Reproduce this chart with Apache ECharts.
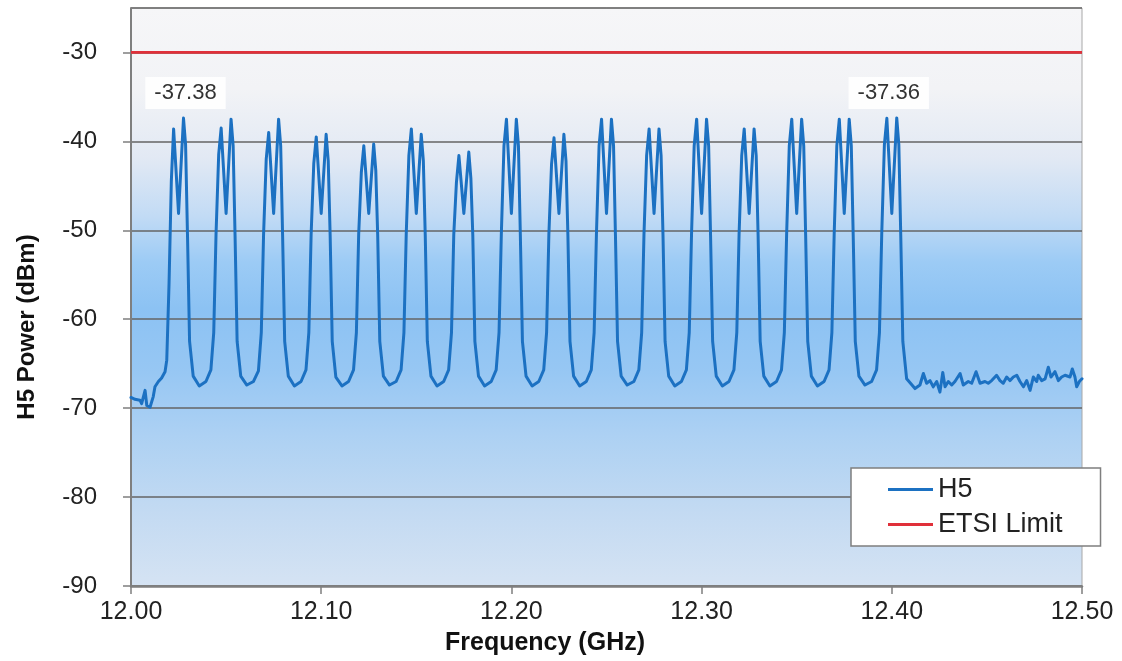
<!DOCTYPE html>
<html>
<head>
<meta charset="utf-8">
<script src="https://cdn.jsdelivr.net/npm/echarts@6/dist/echarts.min.js"></script>
<style>
html,body{margin:0;padding:0;background:#fff;}
#chart{width:1122px;height:661px;}
</style>
</head>
<body>
<div id="chart"></div>
<script>
// ---- data ----
const xTicks = [12.00, 12.10, 12.20, 12.30, 12.40, 12.50];
const yTicks = [-90, -80, -70, -60, -50, -40, -30];
const etsiLimit = -30;

const leadFreq  = [12.0000, 12.0021, 12.0047, 12.0056, 12.0074, 12.0083, 12.0100, 12.0117, 12.0126, 12.0144, 12.0161, 12.0179, 12.0188];
const leadPower = [-68.8, -69.0, -69.1, -69.5, -68.0, -69.7, -69.9, -68.7, -67.6, -67.0, -66.6, -65.9, -64.6];

const bandFreq = [
  12.0200,12.0212,12.0224,12.0250,12.0276,12.0287,12.0297,12.0308,12.0327,12.0359,12.0394,
  12.0420,12.0435,12.0447,12.0461,12.0474,12.0500,12.0526,12.0537,12.0547,12.0558,12.0577,12.0609,12.0644,
  12.0670,12.0685,12.0697,12.0711,12.0724,12.0750,12.0776,12.0787,12.0797,12.0808,12.0827,12.0859,12.0894,
  12.0920,12.0935,12.0947,12.0961,12.0974,12.1000,12.1026,12.1037,12.1047,12.1058,12.1077,12.1109,12.1144,
  12.1170,12.1185,12.1197,12.1211,12.1224,12.1250,12.1276,12.1287,12.1297,12.1308,12.1327,12.1359,12.1394,
  12.1420,12.1435,12.1447,12.1461,12.1474,12.1500,12.1526,12.1537,12.1547,12.1558,12.1577,12.1609,12.1644,
  12.1670,12.1685,12.1697,12.1711,12.1724,12.1750,12.1776,12.1787,12.1797,12.1808,12.1827,12.1859,12.1894,
  12.1920,12.1935,12.1947,12.1961,12.1974,12.2000,12.2026,12.2037,12.2047,12.2058,12.2077,12.2109,12.2144,
  12.2170,12.2185,12.2197,12.2211,12.2224,12.2250,12.2276,12.2287,12.2297,12.2308,12.2327,12.2359,12.2394,
  12.2420,12.2435,12.2447,12.2461,12.2474,12.2500,12.2526,12.2537,12.2547,12.2558,12.2577,12.2609,12.2644,
  12.2670,12.2685,12.2697,12.2711,12.2724,12.2750,12.2776,12.2787,12.2797,12.2808,12.2827,12.2859,12.2894,
  12.2920,12.2935,12.2947,12.2961,12.2974,12.3000,12.3026,12.3037,12.3047,12.3058,12.3077,12.3109,12.3144,
  12.3170,12.3185,12.3197,12.3211,12.3224,12.3250,12.3276,12.3287,12.3297,12.3308,12.3327,12.3359,12.3394,
  12.3420,12.3435,12.3447,12.3461,12.3474,12.3500,12.3526,12.3537,12.3547,12.3558,12.3577,12.3609,12.3644,
  12.3670,12.3685,12.3697,12.3711,12.3724,12.3750,12.3776,12.3787,12.3797,12.3808,12.3827,12.3859,12.3894,
  12.3920,12.3935,12.3947,12.3961,12.3974,12.4000,12.4026,12.4037,12.4047,12.4058,12.4078
];
const bandPower = [
  -56.0,-44.5,-38.6,-48.1,-37.38,-40.4,-50.5,-62.5,-66.4,-67.5,-67.0,
  -65.7,-61.5,-50.5,-41.5,-38.5,-48.1,-37.5,-40.5,-50.5,-62.5,-66.4,-67.4,-67.0,
  -65.8,-61.5,-50.5,-42.0,-39.0,-48.1,-37.5,-40.5,-50.5,-62.5,-66.4,-67.5,-67.0,
  -65.7,-61.5,-50.5,-42.5,-39.5,-48.1,-39.2,-42.2,-50.5,-62.5,-66.5,-67.5,-67.0,
  -65.7,-61.5,-50.5,-43.5,-40.5,-48.1,-40.3,-43.3,-50.5,-62.5,-66.4,-67.4,-67.0,
  -65.7,-61.5,-50.5,-41.6,-38.6,-48.1,-39.2,-42.2,-50.5,-62.5,-66.4,-67.5,-67.0,
  -65.7,-61.5,-50.5,-44.6,-41.6,-48.1,-41.2,-44.2,-50.5,-62.5,-66.4,-67.5,-67.0,
  -65.7,-61.5,-50.5,-40.5,-37.5,-48.1,-37.5,-40.5,-50.5,-62.5,-66.4,-67.5,-67.0,
  -65.7,-61.5,-50.5,-42.6,-39.6,-48.1,-39.2,-42.2,-50.5,-62.5,-66.4,-67.5,-67.0,
  -65.7,-61.5,-50.5,-40.5,-37.5,-48.1,-37.5,-40.5,-50.5,-62.5,-66.4,-67.4,-67.0,
  -65.7,-61.5,-50.5,-41.6,-38.6,-48.1,-38.6,-41.6,-50.5,-62.5,-66.4,-67.5,-67.0,
  -65.7,-61.5,-50.5,-40.5,-37.5,-48.1,-37.5,-40.5,-50.5,-62.5,-66.4,-67.5,-67.0,
  -65.7,-61.5,-50.5,-41.6,-38.6,-48.1,-38.6,-41.6,-50.5,-62.5,-66.4,-67.5,-67.0,
  -65.7,-61.5,-50.5,-40.5,-37.5,-48.1,-37.5,-40.5,-50.5,-62.5,-66.4,-67.5,-67.0,
  -65.7,-61.5,-50.5,-40.5,-37.5,-48.1,-37.5,-40.5,-50.5,-62.5,-66.4,-67.4,-67.0,
  -65.7,-61.5,-50.5,-40.4,-37.4,-48.1,-37.36,-40.4,-50.5,-62.5,-66.7
];

const tailFreq = [
  12.4122,12.4148,12.4166,12.4183,12.4201,12.4218,12.4236,12.4253,12.4268,12.4280,
  12.4297,12.4315,12.4332,12.4359,12.4376,12.4402,12.4420,12.4443,12.4464,12.4490,
  12.4507,12.4525,12.4551,12.4569,12.4586,12.4604,12.4621,12.4639,12.4657,12.4674,
  12.4692,12.4709,12.4727,12.4744,12.4762,12.4770,12.4788,12.4806,12.4823,12.4837,
  12.4858,12.4876,12.4893,12.4911,12.4937,12.4949,12.4963,12.4972,12.4986,12.5000
];
const tailPower = [
  -67.8,-67.4,-66.1,-67.2,-66.9,-67.6,-67.0,-68.2,-66.0,-67.6,
  -67.0,-67.4,-67.0,-66.1,-67.4,-67.0,-67.2,-65.9,-67.2,-67.0,
  -67.2,-66.9,-66.3,-66.9,-67.2,-66.5,-66.9,-66.5,-66.3,-67.0,
  -67.6,-66.9,-68.0,-66.5,-67.0,-66.3,-66.9,-66.7,-65.4,-66.5,
  -65.9,-66.9,-66.5,-66.3,-66.5,-65.6,-66.5,-67.6,-67.0,-66.7
];

const peakLabels = [
  {freq: 12.0276, power: -37.38, text: '-37.38', offset: [2, -25]},
  {freq: 12.4026, power: -37.36, text: '-37.36', offset: [-8, -25]}
];

// ---- build ----
const allFreq = leadFreq.concat(bandFreq, tailFreq);
const allPower = leadPower.concat(bandPower, tailPower);
const h5Data = allFreq.map((f, i) => [f, allPower[i]]);
const limitData = [[xTicks[0], etsiLimit], [xTicks[xTicks.length - 1], etsiLimit]];

const FONT = "'Liberation Sans', Arial, Helvetica, sans-serif";
const chart = echarts.init(document.getElementById('chart'), null, {renderer: 'canvas'});

chart.setOption({
  animation: false,
  backgroundColor: '#ffffff',
  grid: {
    left: 131, right: 40, top: 8, bottom: 75,
    show: true,
    borderColor: '#a8a8a8',
    borderWidth: 1,
    backgroundColor: new echarts.graphic.LinearGradient(0, 0, 0, 1, [
      {offset: 0.00, color: '#f6f6f8'},
      {offset: 0.14, color: '#f2f3f6'},
      {offset: 0.26, color: '#e2e9f4'},
      {offset: 0.36, color: '#c2dbf5'},
      {offset: 0.44, color: '#9ccbf5'},
      {offset: 0.52, color: '#8cc2f3'},
      {offset: 0.63, color: '#97c7f3'},
      {offset: 0.74, color: '#add1f3'},
      {offset: 0.87, color: '#c3daf2'},
      {offset: 1.00, color: '#d5e3f3'}
    ])
  },
  xAxis: {
    type: 'value',
    min: xTicks[0],
    max: xTicks[xTicks.length - 1],
    interval: 0.1,
    axisLine: {show: true, onZero: false, lineStyle: {color: '#7f7f7f', width: 2.5}},
    axisTick: {show: true, inside: false, length: 8, lineStyle: {color: '#7f7f7f', width: 1.5}},
    axisLabel: {
      color: '#222', fontSize: 25, fontFamily: FONT, margin: 14,
      formatter: v => v.toFixed(2)
    },
    splitLine: {show: false}
  },
  yAxis: {
    type: 'value',
    min: yTicks[0],
    max: -25,
    interval: 10,
    axisLine: {show: true, onZero: false, lineStyle: {color: '#7f7f7f', width: 2}},
    axisTick: {show: true, inside: false, length: 8, lineStyle: {color: '#7f7f7f', width: 1.5}},
    axisLabel: {
      color: '#222', fontSize: 24, fontFamily: FONT, margin: 34,
      showMaxLabel: false,
      formatter: v => (yTicks.indexOf(v) >= 0 ? String(v) : '')
    },
    splitLine: {show: true, lineStyle: {color: '#646464', width: 1.5}}
  },
  legend: {
    show: true,
    orient: 'vertical',
    left: 851,
    top: 468,
    backgroundColor: '#ffffff',
    borderColor: '#7f7f7f',
    borderWidth: 1.5,
    padding: [8, 38, 8, 37],
    itemGap: 8,
    itemWidth: 45,
    itemHeight: 3,
    icon: 'rect',
    textStyle: {color: '#222', fontSize: 27, fontFamily: FONT},
    data: ['H5', 'ETSI Limit']
  },
  graphic: [
    {
      type: 'text', x: 27, y: 327, rotation: Math.PI / 2,
      style: {
        text: 'H5 Power (dBm)', fill: '#111',
        font: "bold 24px 'Liberation Sans', Arial, sans-serif",
        textAlign: 'center', textVerticalAlign: 'middle',
        align: 'center', verticalAlign: 'middle'
      }
    },
    {
      type: 'text', x: 545, y: 643,
      style: {
        text: 'Frequency (GHz)', fill: '#111',
        font: "bold 25px 'Liberation Sans', Arial, sans-serif",
        textAlign: 'center', textVerticalAlign: 'middle',
        align: 'center', verticalAlign: 'middle'
      }
    }
  ],
  series: [
    {
      name: 'ETSI Limit',
      type: 'line',
      data: limitData,
      showSymbol: false,
      symbol: 'none',
      itemStyle: {color: '#e0303a'},
      lineStyle: {color: '#e0303a', width: 2.8},
      z: 3
    },
    {
      name: 'H5',
      type: 'line',
      data: h5Data,
      showSymbol: false,
      symbol: 'none',
      itemStyle: {color: '#1c71c2'},
      lineStyle: {color: '#1c71c2', width: 3, join: 'round', cap: 'round'},
      z: 4,
      markPoint: {
        symbol: 'circle',
        symbolSize: 1,
        itemStyle: {color: 'rgba(0,0,0,0)'},
        data: peakLabels.map(p => ({
          coord: [p.freq, p.power],
          label: {
            show: true,
            position: 'inside',
            offset: p.offset,
            formatter: p.text,
            color: '#333',
            fontSize: 22,
            fontFamily: FONT,
            backgroundColor: 'rgba(255,255,255,0.9)',
            padding: [6, 9, 4, 9]
          }
        }))
      }
    }
  ]
});
</script>
</body>
</html>
